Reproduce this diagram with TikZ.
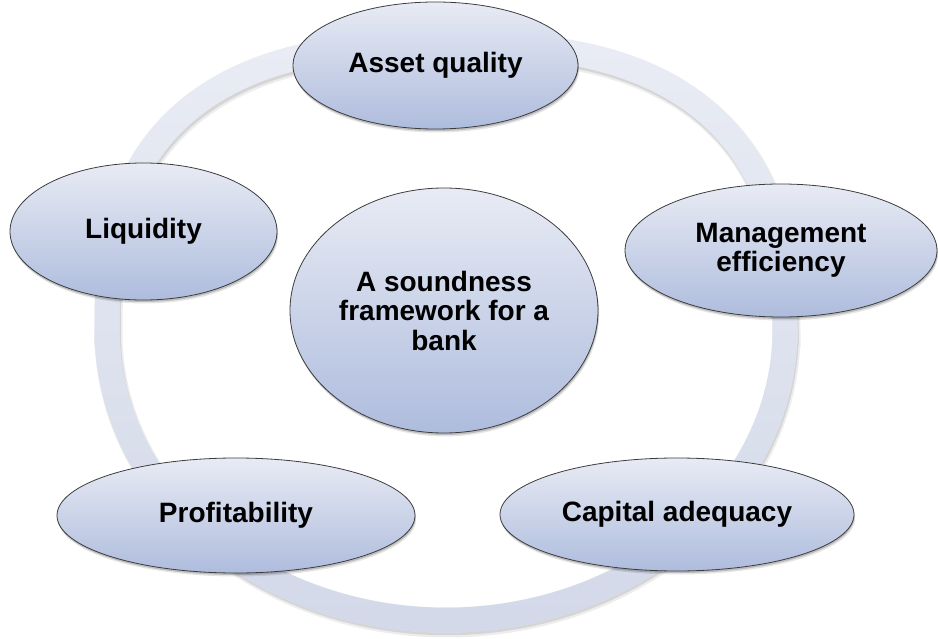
\documentclass[tikz,border=0pt]{standalone}
\usepackage{fontspec}
\setmainfont{Liberation Sans}
\usetikzlibrary{shapes.geometric,shadows,fadings}

\definecolor{ringtop}{HTML}{EAEDF5}
\definecolor{ringbot}{HTML}{D3D9E9}
\definecolor{ovaltop}{HTML}{E8EBF4}
\definecolor{ovalbot}{HTML}{AEBCDD}
\definecolor{ovaledge}{HTML}{3C3C3C}

\tikzfading[name=ringfade, top color=transparent!100, bottom color=transparent!0]

\tikzset{
  x=1pt, y=-1pt,
  oval/.style={ellipse, draw=ovaledge, line width=0.8pt,
    top color=ovaltop, bottom color=ovalbot,
    inner sep=0pt, align=center, text=black,
    font=\fontsize{28}{29.5}\selectfont\bfseries,
    general shadow={shadow xshift=1.2pt, shadow yshift=-3.5pt, fill=black, opacity=0.10, scale=1.01},
    general shadow={shadow xshift=0.6pt, shadow yshift=-2pt, fill=black, opacity=0.18}},
  % cycle ring: squarish upper half, elliptic lower half
  ringpath/.style={insert path={
    plot[domain=180:360, samples=120]
      ({446 + 339*sign(cos(\x))*(abs(cos(\x))+0.000001)^0.77},
       {330 - 286*(abs(sin(\x))+0.000001)^0.77})
    -- plot[domain=0:180, samples=120]
      ({446 + 339*cos(\x)}, {330 + 290*sin(\x)})
    -- cycle}}
}

\begin{document}
\begin{tikzpicture}
  \useasboundingbox (0,0) rectangle (938,639);

  % soft shadow under the cycle ring
  \draw[black, opacity=0.07, line width=28pt, shift={(1.5,3.5)}, ringpath];
  \draw[black, opacity=0.10, line width=25.5pt, shift={(1,2.5)}, ringpath];
  % the ring itself, lighter at the top, darker at the bottom
  \draw[ringtop, line width=25pt, ringpath];
  \draw[ringbot, line width=25pt, path fading=ringfade, ringpath];

  % centre and surrounding components
  \node[oval, minimum width=308, minimum height=245] (core) at (444,310.5)
    {A soundness\\framework for a\\bank};
  \node[oval, minimum width=285, minimum height=127] (asset) at (435.5,65.5)
    {Asset quality};
  \node[oval, minimum width=267, minimum height=137] (liquid) at (143.5,231.5)
    {Liquidity};
  \node[oval, minimum width=312, minimum height=133] (manage) at (781,250.5)
    {Management\\efficiency};
  \node[oval, minimum width=358, minimum height=115] (profit) at (236,515.5)
    {Profitability};
  \node[oval, minimum width=354, minimum height=113] (capital) at (677,514.5)
    {Capital adequacy};
\end{tikzpicture}
\end{document}
